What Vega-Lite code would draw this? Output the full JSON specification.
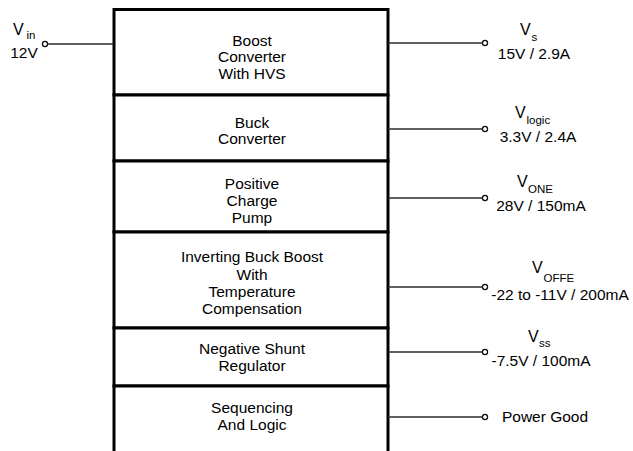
{
  "$schema": "https://vega.github.io/schema/vega-lite/v6.json",
  "width": 633,
  "height": 451,
  "padding": 0,
  "autosize": {"type": "fit", "contains": "padding"},
  "background": "white",
  "config": {"view": {"stroke": null}, "text": {"font": "Liberation Sans", "color": "#000"}},
  "datasets": {
    "blocks": [
      {"x": 114, "x2": 388, "y": 9.5, "y2": 95},
      {"x": 114, "x2": 388, "y": 95, "y2": 161},
      {"x": 114, "x2": 388, "y": 161, "y2": 232},
      {"x": 114, "x2": 388, "y": 232, "y2": 328},
      {"x": 114, "x2": 388, "y": 328, "y2": 386},
      {"x": 114, "x2": 388, "y": 386, "y2": 470}
    ],
    "wires": [
      {"x": 47.5, "x2": 114, "y": 44},
      {"x": 388, "x2": 482.5, "y": 43},
      {"x": 388, "x2": 482.5, "y": 129},
      {"x": 388, "x2": 482.5, "y": 198},
      {"x": 388, "x2": 482.5, "y": 287},
      {"x": 388, "x2": 482.5, "y": 352},
      {"x": 388, "x2": 482.5, "y": 417}
    ],
    "terminals": [
      {"x": 45, "y": 44},
      {"x": 485, "y": 43},
      {"x": 485, "y": 129},
      {"x": 485, "y": 198},
      {"x": 485, "y": 287},
      {"x": 485, "y": 352},
      {"x": 485, "y": 417}
    ],
    "blocktext": [
      {"x": 252, "y": 45.5, "text": "Boost"},
      {"x": 252, "y": 62, "text": "Converter"},
      {"x": 252, "y": 78.5, "text": "With HVS"},
      {"x": 252, "y": 127.5, "text": "Buck"},
      {"x": 252, "y": 144, "text": "Converter"},
      {"x": 252, "y": 189, "text": "Positive"},
      {"x": 252, "y": 206, "text": "Charge"},
      {"x": 252, "y": 223, "text": "Pump"},
      {"x": 252, "y": 262, "text": "Inverting Buck Boost"},
      {"x": 252, "y": 279.5, "text": "With"},
      {"x": 252, "y": 297, "text": "Temperature"},
      {"x": 252, "y": 314, "text": "Compensation"},
      {"x": 252, "y": 354, "text": "Negative Shunt"},
      {"x": 252, "y": 371, "text": "Regulator"},
      {"x": 252, "y": 413, "text": "Sequencing"},
      {"x": 252, "y": 430, "text": "And Logic"}
    ],
    "values": [
      {"x": 24, "y": 58, "text": "12V"},
      {"x": 534, "y": 59, "text": "15V / 2.9A"},
      {"x": 538, "y": 142, "text": "3.3V / 2.4A"},
      {"x": 541, "y": 211, "text": "28V / 150mA"},
      {"x": 560, "y": 300, "text": "-22 to -11V / 200mA"},
      {"x": 541, "y": 366, "text": "-7.5V / 100mA"},
      {"x": 545, "y": 422, "text": "Power Good"}
    ],
    "vmain": [
      {"x": 13, "y": 35, "text": "V"},
      {"x": 520, "y": 35, "text": "V"},
      {"x": 515, "y": 118, "text": "V"},
      {"x": 517, "y": 187, "text": "V"},
      {"x": 532, "y": 273, "text": "V"},
      {"x": 528, "y": 342, "text": "V"}
    ],
    "vsub": [
      {"x": 26.5, "y": 39, "text": "in"},
      {"x": 531.5, "y": 41, "text": "s"},
      {"x": 526.5, "y": 124, "text": "logic"},
      {"x": 528, "y": 193, "text": "ONE"},
      {"x": 543.5, "y": 282, "text": "OFFE"},
      {"x": 539, "y": 347, "text": "ss"}
    ]
  },
  "encoding": {
    "x": {"field": "x", "type": "quantitative", "scale": {"domain": [0, 633], "nice": false, "zero": false}, "axis": null},
    "y": {"field": "y", "type": "quantitative", "scale": {"domain": [0, 451], "nice": false, "zero": false, "reverse": true}, "axis": null}
  },
  "layer": [
    {
      "data": {"name": "blocks"},
      "mark": {"type": "rect", "fill": "white", "stroke": "black", "strokeWidth": 3, "clip": true},
      "encoding": {"x2": {"field": "x2"}, "y2": {"field": "y2"}}
    },
    {
      "data": {"name": "wires"},
      "mark": {"type": "rule", "color": "#2a2a2a", "strokeWidth": 1.4},
      "encoding": {"x2": {"field": "x2"}}
    },
    {
      "data": {"name": "terminals"},
      "mark": {"type": "point", "shape": "circle", "size": 26, "filled": false, "fill": "white", "fillOpacity": 1, "stroke": "#111", "strokeWidth": 1.3, "opacity": 1},
      "encoding": {}
    },
    {
      "data": {"name": "blocktext"},
      "mark": {"type": "text", "fontSize": 15.5, "align": "center", "baseline": "alphabetic", "fill": "#000"},
      "encoding": {"text": {"field": "text"}}
    },
    {
      "data": {"name": "values"},
      "mark": {"type": "text", "fontSize": 15.5, "align": "center", "baseline": "alphabetic", "fill": "#000"},
      "encoding": {"text": {"field": "text"}}
    },
    {
      "data": {"name": "vmain"},
      "mark": {"type": "text", "fontSize": 16, "align": "left", "baseline": "alphabetic", "fill": "#000"},
      "encoding": {"text": {"field": "text"}}
    },
    {
      "data": {"name": "vsub"},
      "mark": {"type": "text", "fontSize": 11.5, "align": "left", "baseline": "alphabetic", "fill": "#000"},
      "encoding": {"text": {"field": "text"}}
    }
  ]
}
